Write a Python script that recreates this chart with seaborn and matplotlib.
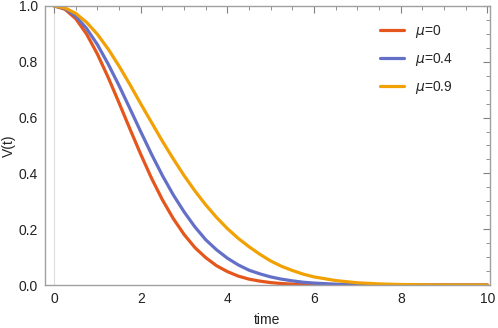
import numpy as np
import pandas as pd
import matplotlib
matplotlib.use("Agg")
import matplotlib.pyplot as plt
import seaborn as sns
from matplotlib.ticker import MultipleLocator

# time grid
time = [0, 0.25, 0.5, 0.75, 1, 1.25, 1.5, 1.75, 2, 2.25, 2.5, 2.75, 3, 3.25,
        3.5, 3.75, 4, 4.25, 4.5, 4.75, 5, 5.25, 5.5, 5.75, 6, 6.5, 7, 7.5,
        8, 8.5, 9, 9.5, 10]

v_mu0 = [1, 0.988, 0.954, 0.899, 0.827, 0.743, 0.652, 0.559, 0.468, 0.382,
         0.305, 0.238, 0.181, 0.134, 0.098, 0.069, 0.048, 0.032, 0.021,
         0.014, 0.0087, 0.0053, 0.0032, 0.0019, 0.0011, 0.0003, 0.0001, 0,
         0, 0, 0, 0, 0]

v_mu04 = [1, 0.991, 0.963, 0.919, 0.861, 0.791, 0.714, 0.632, 0.549, 0.468,
          0.392, 0.323, 0.262, 0.208, 0.162, 0.126, 0.096, 0.072, 0.053,
          0.040, 0.029, 0.021, 0.015, 0.010, 0.007, 0.003, 0.0013, 0.0005,
          0.0002, 0.0001, 0, 0, 0]

v_mu09 = [1, 0.993, 0.973, 0.941, 0.898, 0.845, 0.784, 0.718, 0.649, 0.582,
          0.515, 0.452, 0.392, 0.337, 0.287, 0.242, 0.202, 0.167, 0.137,
          0.110, 0.086, 0.067, 0.052, 0.039, 0.029, 0.016, 0.008, 0.004,
          0.0019, 0.0008, 0.0003, 0.0001, 0]

labels = [r"$\mu$=0", r"$\mu$=0.4", r"$\mu$=0.9"]
colors = ["#E4561C", "#6470C8", "#F2A104"]

df = pd.concat([
    pd.DataFrame({"time": time, "V": v, "mu": lab})
    for v, lab in zip([v_mu0, v_mu04, v_mu09], labels)
])

sns.set_theme(style="white")
plt.rcParams["font.family"] = ["Liberation Sans", "DejaVu Sans"]

fig = plt.figure(figsize=(4.98, 3.28), dpi=100)
ax = fig.add_axes([0.0904, 0.131, 0.8936, 0.851])

ax.axvline(0, color="#dddddd", lw=0.8, zorder=0)
sns.lineplot(data=df, x="time", y="V", hue="mu", palette=colors,
             linewidth=2.3, ax=ax)

ax.set_xlim(-0.21, 10.06)
ax.set_ylim(0, 1)
ax.xaxis.set_major_locator(MultipleLocator(2))
ax.xaxis.set_minor_locator(MultipleLocator(0.5))
ax.yaxis.set_major_locator(MultipleLocator(0.2))
ax.yaxis.set_minor_locator(MultipleLocator(0.05))
ax.yaxis.set_major_formatter(matplotlib.ticker.FormatStrFormatter("%.1f"))

frame_col = "#a0a0a0"
for s in ax.spines.values():
    s.set_color(frame_col)
    s.set_linewidth(1.0)
ax.tick_params(which="both", direction="in", top=True, right=True,
               color="#808080", labelsize=10, labelcolor="#222222")
ax.tick_params(which="major", length=5, width=0.8, pad=5)
ax.tick_params(which="minor", length=3, width=0.6)

ax.set_xlabel("time", fontsize=10, color="#222222", labelpad=5)
ax.set_ylabel("V(t)", fontsize=10, color="#222222", labelpad=2)

leg = ax.legend(loc="upper right", frameon=False, fontsize=10,
                handlelength=1.7, labelspacing=0.8, handletextpad=0.8,
                bbox_to_anchor=(0.945, 0.985))
for line in leg.get_lines():
    line.set_linewidth(2.3)

fig.savefig("out.png", dpi=100)
